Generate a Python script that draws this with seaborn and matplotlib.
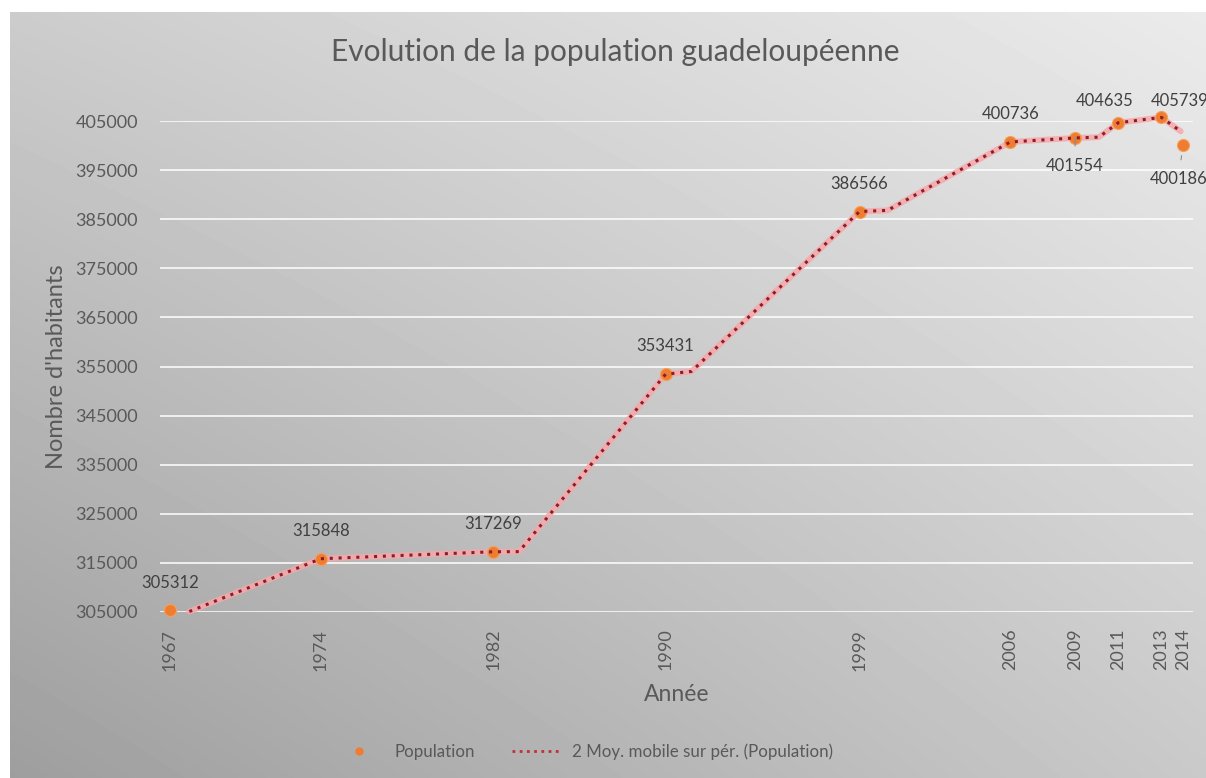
import numpy as np
import pandas as pd
import matplotlib
matplotlib.use("Agg")
import matplotlib.pyplot as plt
from matplotlib.lines import Line2D
import seaborn as sns

# Census years and population of Guadeloupe
years = [1967, 1974, 1982, 1990, 1999, 2006, 2009, 2011, 2013, 2014]
population = [305312, 315848, 317269, 353431, 386566, 400736, 401554, 404635, 405739, 400186]

# Vertices of the 2-period moving-average trend line
trend_years = [1967.9, 1974.0, 1982.0, 1983.2, 1990.0, 1991.2, 1999.0, 2000.3,
               2006.0, 2009.0, 2010.1, 2011.0, 2013.0, 2013.9]
trend_values = [305100, 315848, 317269, 317300, 353431, 354000, 386566, 386800,
                400736, 401554, 401700, 404635, 405739, 402900]

y_ticks = [305000, 315000, 325000, 335000, 345000, 355000, 365000, 375000,
           385000, 395000, 405000]

# offset of each value label, in points (negative dy = below the point)
label_dx = [0, 0, 0, 0, 0, 0, 0, -10, 13, -3]
label_dy = [20, 20, 20, 20, 20, 20, -20, 16, 12, -25]

sns.set_theme(style="white")
plt.rcParams["font.family"] = ["Lato", "DejaVu Sans"]

W, H, DPI = 1206, 778, 100
fig = plt.figure(figsize=(W / DPI, H / DPI), dpi=DPI)
fig.patch.set_facecolor("white")

# gradient background of the chart area
bg = fig.add_axes([10 / W, 0, 1 - 10 / W, 1 - 12 / H], zorder=-10)
u = np.linspace(0, 1, 300)[None, :]
v = np.linspace(0, 1, 200)[:, None]  # 0 = top, 1 = bottom
tl, tr, bl, br = 0.80, 0.92, 0.62, 0.79
grad = (tl * (1 - u) * (1 - v) + tr * u * (1 - v) + bl * (1 - u) * v + br * u * v)
bg.imshow(grad, cmap="gray", vmin=0, vmax=1, aspect="auto",
          extent=[0, 1, 1, 0], interpolation="bilinear")
bg.set_axis_off()

ax = fig.add_axes([160 / W, 1 - 612 / H, (1193 - 160) / W, (612 - 121) / H])
ax.set_facecolor("none")

df = pd.DataFrame({"Année": years, "Population": population})
tr_df = pd.DataFrame({"x": trend_years, "y": trend_values})

# soft pink halo under the dotted trend line
sns.lineplot(data=tr_df, x="x", y="y", sort=False, estimator=None, ax=ax,
             color="#f6a8a8", lw=4.2, alpha=0.85, legend=False, zorder=2)
sns.lineplot(data=tr_df, x="x", y="y", sort=False, estimator=None, ax=ax,
             color="#8e1a2e", lw=2.2, legend=False, zorder=4,
             linestyle=(0, (1, 1.9)))
for ln in ax.get_lines():
    ln.set_clip_on(False)

sns.scatterplot(data=df, x="Année", y="Population", ax=ax, s=75,
                color="#ee7d31", edgecolor="#f5a05a", linewidth=0.8,
                zorder=3, legend=False, clip_on=False)

ax.set_xlim(1966.54, 2014.47)
ax.set_ylim(305000, 405000)
ax.set_yticks(y_ticks)
ax.set_yticklabels([str(t) for t in y_ticks], color="#595959", fontsize=13)
ax.set_xticks(years)
ax.set_xticklabels([str(y) for y in years], rotation=90, color="#595959",
                   fontsize=13)
ax.tick_params(axis="both", length=0)
ax.tick_params(axis="x", pad=12)
ax.tick_params(axis="y", pad=16)
for s in ax.spines.values():
    s.set_visible(False)
ax.grid(axis="y", color="white", lw=1.3, alpha=0.85)
ax.grid(axis="x", visible=False)
ax.set_axisbelow(True)

ax.set_xlabel("Année", color="#595959", fontsize=16.5, labelpad=10)
ax.set_ylabel("Nombre d'habitants", color="#595959", fontsize=17, labelpad=6)

# value labels
for x, y, dx, dy in zip(years, population, label_dx, label_dy):
    kw = dict(xytext=(dx, dy), textcoords="offset points", ha="center",
              va="center", color="#404040", fontsize=12, annotation_clip=False)
    if dy < 0:
        kw["arrowprops"] = dict(arrowstyle="-", color="#8c8c8c", lw=0.8,
                                shrinkA=6, shrinkB=8)
    ax.annotate(str(y), (x, y), **kw)

fig.text(615 / W, 1 - 52 / H, "Evolution de la population guadeloupéenne",
         ha="center", va="center", fontsize=21.5, color="#595959")

handles = [
    Line2D([], [], marker="o", ls="none", color="#ee7d31", markersize=5),
    Line2D([], [], color="#c0303a", lw=2.0, linestyle=(0, (1, 1.6))),
]
fig.legend(handles, ["Population", "2 Moy. mobile sur pér. (Population)"],
           loc="center", bbox_to_anchor=(584 / W, 1 - 752 / H), ncol=2,
           frameon=False, fontsize=12.2, labelcolor="#595959",
           columnspacing=2.2, handlelength=2.8, handletextpad=0.7)

fig.savefig("out.png", dpi=DPI)
